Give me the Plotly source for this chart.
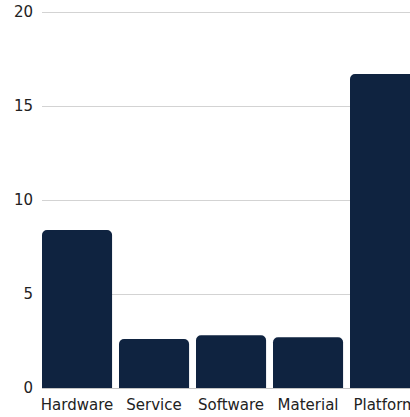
import plotly.graph_objects as go

categories = ["Hardware", "Service", "Software", "Material", "Platform"]
values = [8.4, 2.6, 2.8, 2.7, 16.7]
y_ticks = [0, 5, 10, 15, 20]

fig = go.Figure(
    go.Bar(
        x=categories,
        y=values,
        marker=dict(color="#0f2340", line=dict(width=0)),
        hoverinfo="x+y",
    )
)

fig.update_layout(
    width=410,
    height=417,
    margin=dict(l=42, r=0, t=6, b=29, pad=0),
    paper_bgcolor="white",
    plot_bgcolor="white",
    bargap=0.09,
    barcornerradius=5,
    font=dict(family="Verdana, DejaVu Sans, sans-serif", size=15, color="#222222"),
    showlegend=False,
    xaxis=dict(
        range=[-0.455, 4.324],
        automargin=False,
        showgrid=False,
        showline=False,
        ticks="",
        ticklabelstandoff=6,
        tickfont=dict(size=15),
    ),
    yaxis=dict(
        range=[0, 20.32],
        automargin=False,
        tickvals=y_ticks,
        showgrid=True,
        gridcolor="#d3d3d3",
        gridwidth=1,
        zeroline=True,
        zerolinecolor="#c4c4c4",
        zerolinewidth=1,
        ticks="",
        ticklabelstandoff=8,
        tickfont=dict(size=15),
    ),
)

fig.write_html("out.html")
